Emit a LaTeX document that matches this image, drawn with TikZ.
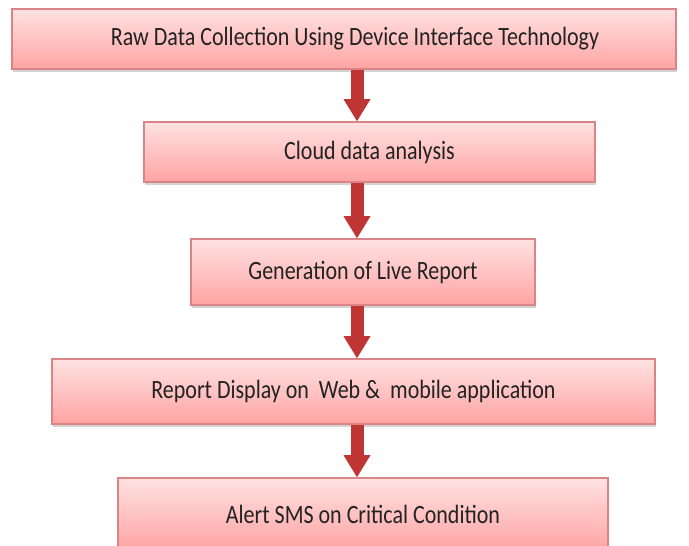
\documentclass[tikz,border=0pt]{standalone}
\usepackage{fontspec}
\setmainfont{Carlito}
\usepackage{tikz}
\usetikzlibrary{arrows.meta,positioning,shadows}
\usepackage{xcolor}
\definecolor{BoxTop}{HTML}{FFE2E2}
\definecolor{BoxBot}{HTML}{FFA3A3}
\definecolor{BoxLine}{HTML}{D98585}
\definecolor{ArrRed}{HTML}{BF3533}
\definecolor{Ink}{HTML}{222222}
\newcommand{\tallTxt}[1]{\scalebox{1}[1.2]{#1}}
\tikzset{
  stepbox/.style={draw=BoxLine, line width=1.6pt, top color=BoxTop, bottom color=BoxBot,
    minimum width=#1, minimum height=60pt, inner sep=0pt,
    font=\fontsize{22}{26}\selectfont, text=Ink,
    drop shadow={shadow xshift=1pt, shadow yshift=-2.5pt, opacity=0.35}},
  stepbox/.default={450pt},
  downarr/.style={-{Triangle[length=22pt,width=27pt,line width=0pt]}, line width=13pt, color=ArrRed},
}

\begin{document}
\begin{tikzpicture}[x=1pt, y=-1pt]
  \useasboundingbox (0,0) rectangle (689,546);
  \coordinate (spine) at (357,0);
  \node[stepbox=664pt] (raw) at (344,39) {\hspace*{22pt}\tallTxt{Raw Data Collection Using Device Interface Technology}};
  \node[stepbox=451pt] (cloud) at (369.5,152) {\tallTxt{Cloud data analysis}};
  \node[stepbox=344pt, minimum height=66pt] (live) at (363,272) {\tallTxt{Generation of Live Report}};
  \node[stepbox=603pt, minimum height=65pt] (disp) at (353.5,391.5) {\tallTxt{Report Display on~ Web \&~ mobile application}};
  \node[stepbox=490pt, minimum height=72pt] (alert) at (363,514) {\tallTxt{Alert SMS on Critical Condition}};
  % arrows between the steps
  \draw[downarr] (raw.south -| spine) -- (cloud.north -| spine);
  \draw[downarr] (cloud.south -| spine) -- (live.north -| spine);
  \draw[downarr] (live.south -| spine) -- (disp.north -| spine);
  \draw[downarr] (disp.south -| spine) -- (alert.north -| spine);
\end{tikzpicture}
\end{document}
